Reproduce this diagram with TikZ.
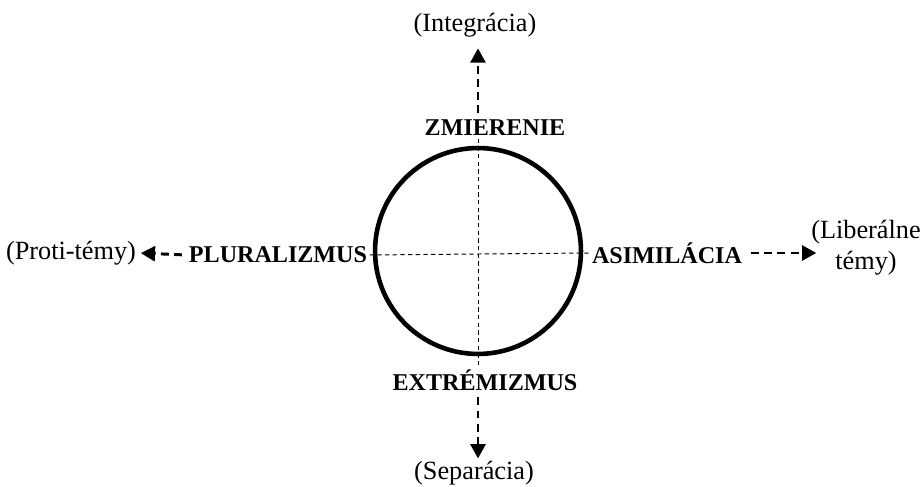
\documentclass[tikz,border=0pt]{standalone}
\usepackage{fontspec}
\setmainfont{Liberation Serif}
\usetikzlibrary{arrows.meta, positioning, calc}
\tikzset{
    >={Triangle[length=6.5pt, width=6.8pt]},
    % Labels
    pole/.style={font=\fontsize{12}{14}\selectfont, align=center, inner sep=1pt},
    stance/.style={font=\fontsize{11}{13}\selectfont\bfseries, inner sep=1pt},
    % Lines
    ring/.style={circle, draw, line width=2.1pt, minimum size=94pt, inner sep=0pt},
    axis/.style={line width=0.45pt, dash pattern=on 2pt off 1.5pt},
    flow/.style={->, line width=1.35pt, dash pattern=on 3.6pt off 2.4pt}
}

\begin{document}
\begin{tikzpicture}[x=0.4565pt, y=-0.4565pt]
\useasboundingbox (0,0) rectangle (923,487);

\node[ring] (circ) at (478,251) {};

\node[stance] (zmier) at (495,128) {ZMIERENIE};
\node[stance] (extrem) at (485,380) {EXTRÉMIZMUS};
\node[stance] (plural) at (278,255) {PLURALIZMUS};
\node[stance] (asimil) at (667,253) {ASIMILÁCIA};

\node[pole] (integ) at (475,25) {(Integrácia)};
\node[pole] (separ) at (474,473) {(Separácia)};
\node[pole] (proti) at (71,253) {(Proti-témy)};
\node[pole] (liber) at (866,248) {(Liberálne\\témy)};

\draw[axis] (zmier.south -| circ) -- (extrem.north -| circ);
\draw[axis] (plural.east) -- (asimil.west);

\draw[flow, shorten <=2pt, shorten >=4pt] (zmier.north -| circ) -- (integ.south -| circ);
\draw[flow, shorten <=2pt, shorten >=0pt] (extrem.south -| circ) -- (separ.north -| circ);
\draw[flow, shorten <=2pt, shorten >=1pt] (plural.west) -- (proti.east);
\draw[flow, shorten <=3pt, shorten >=-3.5pt] (asimil.east) -- (asimil -| liber.west);

\end{tikzpicture}
\end{document}
